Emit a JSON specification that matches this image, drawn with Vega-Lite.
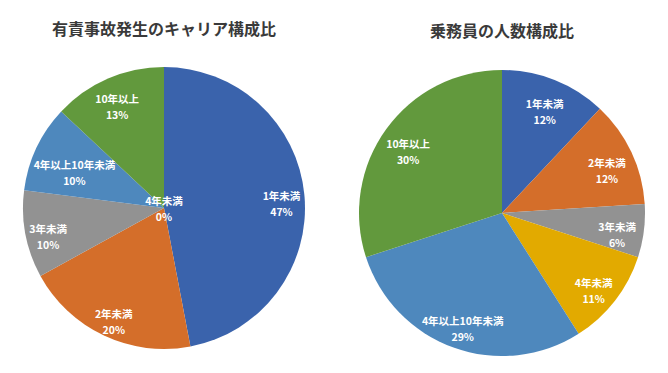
{
  "$schema": "https://vega.github.io/schema/vega-lite/v6.json",
  "background": "white",
  "padding": {"top": 22, "left": 0, "right": 0, "bottom": 0},
  "bounds": "flush",
  "spacing": 10,
  "config": {
    "view": {"stroke": null},
    "font": "Noto Sans CJK JP",
    "title": {"font": "Noto Sans CJK JP", "fontSize": 16, "fontWeight": "bold", "color": "#3a3a3a", "anchor": "middle"}
  },
  "data": {
    "values": [
      {"chart": "A", "rank": 1, "category": "1年未満", "value": 47},
      {"chart": "A", "rank": 2, "category": "2年未満", "value": 20},
      {"chart": "A", "rank": 3, "category": "3年未満", "value": 10},
      {"chart": "A", "rank": 4, "category": "4年未満", "value": 0},
      {"chart": "A", "rank": 5, "category": "4年以上10年未満", "value": 10},
      {"chart": "A", "rank": 6, "category": "10年以上", "value": 13},
      {"chart": "B", "rank": 1, "category": "1年未満", "value": 12},
      {"chart": "B", "rank": 2, "category": "2年未満", "value": 12},
      {"chart": "B", "rank": 3, "category": "3年未満", "value": 6},
      {"chart": "B", "rank": 4, "category": "4年未満", "value": 11},
      {"chart": "B", "rank": 5, "category": "4年以上10年未満", "value": 29},
      {"chart": "B", "rank": 6, "category": "10年以上", "value": 30}
    ]
  },
  "hconcat": [
    {
      "title": {"text": "有責事故発生のキャリア構成比", "offset": 22},
      "width": 328,
      "height": 296,
      "transform": [
        {"filter": "datum.chart == 'A'"},
        {"calculate": "datum.category + '\\n' + datum.value + '%'", "as": "lbl"}
      ],
      "layer": [
        {
          "mark": {"type": "arc", "outerRadius": 141},
          "encoding": {
            "theta": {"field": "value", "type": "quantitative", "stack": true},
            "order": {"field": "rank", "type": "quantitative"},
            "color": {
              "field": "category", "type": "nominal", "legend": null,
              "scale": {
                "domain": ["1年未満", "2年未満", "3年未満", "4年未満", "4年以上10年未満", "10年以上"],
                "range": ["#3a63ac", "#d46e2a", "#929292", "#e2aa00", "#4e88bd", "#62993d"]
              }
            }
          }
        },
        {
          "transform": [{"calculate": "datum.value > 0 && datum.category != '4年以上10年未満' ? datum.lbl : ''", "as": "t1"}],
          "mark": {"type": "text", "radius": 118, "color": "white", "fontWeight": "bold", "fontSize": 10.5, "lineBreak": "\n", "lineHeight": 16},
          "encoding": {
            "theta": {"field": "value", "type": "quantitative", "stack": true},
            "order": {"field": "rank", "type": "quantitative"},
            "detail": {"field": "category", "type": "nominal"},
            "text": {"field": "t1", "type": "nominal"}
          }
        },
        {
          "transform": [{"calculate": "datum.category == '4年以上10年未満' ? datum.lbl : ''", "as": "t2"}],
          "mark": {"type": "text", "radius": 99, "color": "white", "fontWeight": "bold", "fontSize": 10.5, "lineBreak": "\n", "lineHeight": 16},
          "encoding": {
            "theta": {"field": "value", "type": "quantitative", "stack": true},
            "order": {"field": "rank", "type": "quantitative"},
            "detail": {"field": "category", "type": "nominal"},
            "text": {"field": "t2", "type": "nominal"}
          }
        },
        {
          "transform": [{"calculate": "datum.value == 0 ? datum.lbl : ''", "as": "t3"}],
          "mark": {"type": "text", "radius": 0, "dy": -6, "color": "white", "fontWeight": "bold", "fontSize": 10.5, "lineBreak": "\n", "lineHeight": 16},
          "encoding": {
            "theta": {"field": "value", "type": "quantitative", "stack": true},
            "order": {"field": "rank", "type": "quantitative"},
            "detail": {"field": "category", "type": "nominal"},
            "text": {"field": "t3", "type": "nominal"}
          }
        }
      ]
    },
    {
      "title": {"text": "乗務員の人数構成比", "offset": 20},
      "width": 328,
      "height": 306,
      "transform": [
        {"filter": "datum.chart == 'B'"},
        {"calculate": "datum.category + '\\n' + datum.value + '%'", "as": "lbl"}
      ],
      "layer": [
        {
          "mark": {"type": "arc", "outerRadius": 143},
          "encoding": {
            "theta": {"field": "value", "type": "quantitative", "stack": true},
            "order": {"field": "rank", "type": "quantitative"},
            "color": {
              "field": "category", "type": "nominal", "legend": null,
              "scale": {
                "domain": ["1年未満", "2年未満", "3年未満", "4年未満", "4年以上10年未満", "10年以上"],
                "range": ["#3a63ac", "#d46e2a", "#929292", "#e2aa00", "#4e88bd", "#62993d"]
              }
            }
          }
        },
        {
          "mark": {"type": "text", "radius": 116, "color": "white", "fontWeight": "bold", "fontSize": 10.5, "lineBreak": "\n", "lineHeight": 16},
          "encoding": {
            "theta": {"field": "value", "type": "quantitative", "stack": true},
            "order": {"field": "rank", "type": "quantitative"},
            "detail": {"field": "category", "type": "nominal"},
            "text": {"field": "lbl", "type": "nominal"}
          }
        }
      ]
    }
  ]
}
